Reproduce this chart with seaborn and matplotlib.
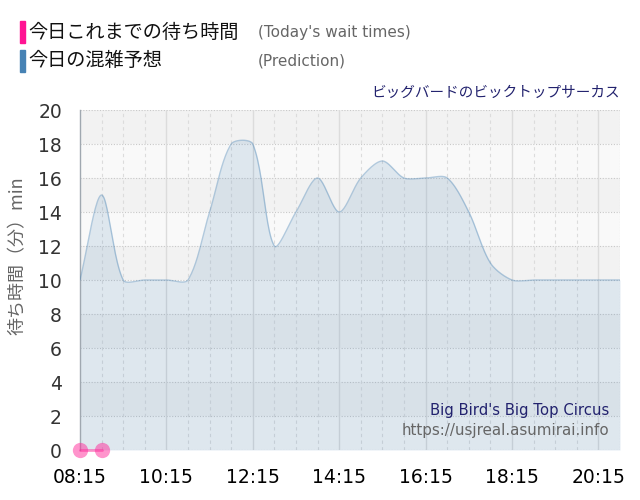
import numpy as np
import matplotlib
matplotlib.use("Agg")
import matplotlib.pyplot as plt
from matplotlib.patches import Rectangle
import seaborn as sns

# prediction, every 30 min from 08:15 to 20:45
pred_times = ["08:15", "08:45", "09:15", "09:45", "10:15", "10:45", "11:15",
              "11:45", "12:15", "12:45", "13:15", "13:45", "14:15", "14:45",
              "15:15", "15:45", "16:15", "16:45", "17:15", "17:45", "18:15",
              "18:45", "19:15", "19:45", "20:15", "20:45"]
pred_wait = [10, 15, 10, 10, 10, 10, 14, 18, 18, 12, 14, 16, 14, 16, 17, 16,
             16, 16, 14, 11, 10, 10, 10, 10, 10, 10]

# today's actual wait times so far
actual_times = ["08:15", "08:45"]
actual_wait = [0, 0]

tick_labels = ["08:15", "10:15", "12:15", "14:15", "16:15", "18:15", "20:15"]


def to_min(t):
    h, m = t.split(":")
    return int(h) * 60 + int(m)


def smooth(xs, ys, tension=0.3, sx=0.72, sy=17.0, n=24):
    # bezier curve through the points, control points worked out in pixel space
    px = np.asarray(xs, float) * sx
    py = np.asarray(ys, float) * sy
    k = len(px)
    cp_prev = np.zeros((k, 2))
    cp_next = np.zeros((k, 2))
    for i in range(k):
        p1 = np.array([px[i], py[i]])
        p0 = np.array([px[i - 1], py[i - 1]]) if i > 0 else p1
        p2 = np.array([px[i + 1], py[i + 1]]) if i < k - 1 else p1
        d01 = np.hypot(*(p1 - p0))
        d12 = np.hypot(*(p2 - p1))
        tot = d01 + d12
        fa = tension * d01 / tot if tot else 0
        fb = tension * d12 / tot if tot else 0
        cp_prev[i] = p1 - fa * (p2 - p0)
        cp_next[i] = p1 + fb * (p2 - p0)
    out_x, out_y = [px[0]], [py[0]]
    t = np.linspace(0, 1, n + 1)[1:]
    for i in range(k - 1):
        a = np.array([px[i], py[i]])
        b = cp_next[i]
        c = cp_prev[i + 1]
        d = np.array([px[i + 1], py[i + 1]])
        pts = ((1 - t) ** 3)[:, None] * a + (3 * (1 - t) ** 2 * t)[:, None] * b \
            + (3 * (1 - t) * t ** 2)[:, None] * c + (t ** 3)[:, None] * d
        out_x.extend(pts[:, 0])
        out_y.extend(pts[:, 1])
    return np.array(out_x) / sx, np.array(out_y) / sy


sns.set_style("white")
plt.rcParams["font.family"] = ["Noto Sans CJK JP", "DejaVu Sans"]

fig = plt.figure(figsize=(6.4, 5), dpi=100)
ax = fig.add_axes([80 / 640, 50 / 500, 540 / 640, 340 / 500])

px = [to_min(t) for t in pred_times]
ax_x = [to_min(t) for t in actual_times]
xmin, xmax = px[0], px[-1]

# alternating background bands
for lo in range(0, 20, 2):
    ax.axhspan(lo, lo + 2, color="#f2f2f2" if (lo // 2) % 2 else "#f9f9f9",
               lw=0, zorder=0)

# grid
for y in range(0, 21, 2):
    ax.axhline(y, color="#c8c8c8", lw=0.8, ls=(0, (1, 1.5)), zorder=1)
for m in range(xmin + 30, xmax, 30):
    if (m - xmin) % 120 == 0:
        ax.axvline(m, color="#dcdcdc", lw=1, zorder=1)
    else:
        ax.axvline(m, color="#dcdcdc", lw=0.8, ls=(0, (3, 3)), zorder=1)
ax.axvline(xmax, color="#c8c8c8", lw=0.8, ls=(0, (1, 1.5)), zorder=1)

# prediction area
sxs, sys_ = smooth(px, pred_wait)
ax.fill_between(sxs, 0, sys_, color="#4682b4", alpha=0.15, lw=0, zorder=2)
sns.lineplot(x=sxs, y=sys_, ax=ax, color="#4682b4", alpha=0.4, lw=1,
             sort=False, zorder=3)

# actual wait times
sns.lineplot(x=ax_x, y=actual_wait, ax=ax, color="#ff2a9a", alpha=0.5, lw=2,
             marker="o", markersize=11, markeredgewidth=0, clip_on=False,
             zorder=5)

ax.set_xlim(xmin, xmax)
ax.set_ylim(0, 20)
ax.set_xticks([to_min(t) for t in tick_labels])
ax.set_xticklabels(tick_labels, fontsize=13.5, color="black",
                   family="DejaVu Sans")
ax.set_yticks(range(0, 21, 2))
ax.set_yticklabels([str(v) for v in range(0, 21, 2)], fontsize=13.5,
                   color="#333333", family="DejaVu Sans")
ax.tick_params(axis="x", length=11, width=1, color="#dcdcdc", pad=2)
ax.tick_params(axis="y", length=11, width=1, color="#e4e4e4", pad=2)
for s in ["top", "right", "bottom"]:
    ax.spines[s].set_visible(False)
ax.spines["left"].set_color("#a0a8b0")
ax.spines["left"].set_linewidth(1)
ax.set_xlabel("")
ax.set_ylabel("")

# y label
fig.text(18 / 640, 1 - 256 / 500, "待ち時間（分）min", rotation=90,
         ha="center", va="center", fontsize=13, color="#666666")

# legend block
fig.patches.append(Rectangle((20 / 640, 1 - 43 / 500), 5 / 640, 22 / 500,
                             color="#ff1493", transform=fig.transFigure))
fig.patches.append(Rectangle((20 / 640, 1 - 72 / 500), 5 / 640, 22 / 500,
                             color="#4682b4", transform=fig.transFigure))
fig.text(28 / 640, 1 - 32 / 500, "今日これまでの待ち時間", ha="left",
         va="center", fontsize=13.8, color="#111111")
fig.text(28 / 640, 1 - 61 / 500, "今日の混雑予想", ha="left", va="center",
         fontsize=13.8, color="#111111")
fig.text(258 / 640, 1 - 32 / 500, "(Today's wait times)", ha="left",
         va="center", fontsize=11, color="#666666", family="DejaVu Sans")
fig.text(258 / 640, 1 - 61 / 500, "(Prediction)", ha="left", va="center",
         fontsize=11, color="#666666", family="DejaVu Sans")

# attraction name
fig.text(620 / 640, 1 - 93 / 500, "ビッグバードのビックトップサーカス",
         ha="right", va="center", fontsize=10.5, color="#22226e")

# watermark
fig.text(609 / 640, 1 - 411 / 500, "Big Bird's Big Top Circus", ha="right",
         va="center", fontsize=10.7, color="#22226e", family="DejaVu Sans")
fig.text(609 / 640, 1 - 431 / 500, "https://usjreal.asumirai.info",
         ha="right", va="center", fontsize=10.9, color="#666666",
         family="DejaVu Sans")

fig.savefig("out.png", dpi=100)
